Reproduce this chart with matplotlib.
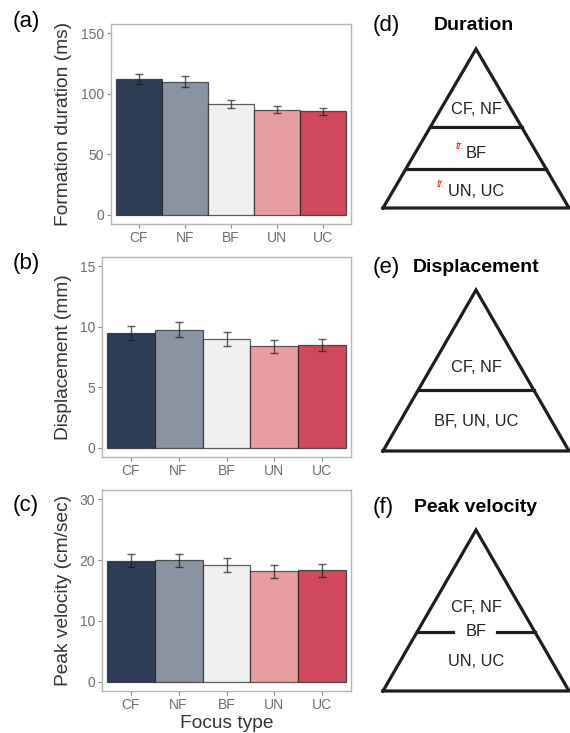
import numpy as np
import matplotlib
matplotlib.use('Agg')
import matplotlib.pyplot as plt

plt.rcParams['font.family'] = ['Liberation Sans', 'DejaVu Sans']

focus = ['CF', 'NF', 'BF', 'UN', 'UC']
colors = ['#2e3e56', '#8a93a2', '#f0f0f0', '#e89ea1', '#d0495b']

duration = [112.4, 110.0, 91.6, 86.6, 85.5]
duration_err = [4.2, 4.5, 3.4, 2.9, 3.0]
displacement = [9.48, 9.75, 8.96, 8.39, 8.50]
displacement_err = [0.58, 0.62, 0.58, 0.53, 0.52]
velocity = [19.87, 19.98, 19.16, 18.17, 18.34]
velocity_err = [1.05, 1.05, 1.1, 1.05, 1.05]

W, H = 570, 733
fig = plt.figure(figsize=(W / 100, H / 100), dpi=100)


def px_axes(x0, y0, x1, y1):
    # pixel box (top-left origin) -> figure fraction
    return fig.add_axes([x0 / W, 1 - y1 / H, (x1 - x0) / W, (y1 - y0) / H])


panels = [
    ('(a)', (111, 24, 351, 224), duration, duration_err, 150, 50, 'Formation duration (ms)', 21),
    ('(b)', (102, 257, 351, 457), displacement, displacement_err, 15, 5, 'Displacement (mm)', 264),
    ('(c)', (102, 490, 351, 691), velocity, velocity_err, 30, 10, 'Peak velocity (cm/sec)', 506),
]

x = np.arange(1, len(focus) + 1)
for i, (tag, box, vals, errs, ymax, step, ylab, tag_y) in enumerate(panels):
    ax = px_axes(*box)
    ax.bar(x, vals, width=1.0, color=colors, edgecolor=(0.1, 0.1, 0.1, 0.7), linewidth=0.9, zorder=2)
    ax.errorbar(x, vals, yerr=errs, fmt='none', ecolor=(0.1, 0.1, 0.1, 0.7),
                elinewidth=1.0, capsize=3, capthick=1.0, zorder=3)
    ax.set_xlim(0.4, 5.6)
    ax.set_ylim(-0.05 * ymax, 1.05 * ymax)
    ax.set_yticks(np.arange(0, ymax + 1e-9, step))
    ax.set_xticks(x)
    ax.set_xticklabels(focus)
    for s in ax.spines.values():
        s.set_color('#b5b5b5')
        s.set_linewidth(1.0)
    ax.tick_params(length=3, width=0.8, color='#8a8a8a', labelcolor='#6e6e6e',
                   labelsize=10, pad=2)
    ax.set_ylabel(ylab, fontsize=13.8, color='#333333')
    ax.yaxis.set_label_coords(72 / W, 1 - (box[1] + box[3]) / 2 / H, transform=fig.transFigure)
    fig.text(13 / W, 1 - tag_y / H, tag, fontsize=16, ha='left', va='center', color='black')
    if i == 2:
        ax.set_xlabel('Focus type', fontsize=13.8, color='#333333', labelpad=2)

# pyramid diagrams in pixel coordinates
ov = fig.add_axes([0, 0, 1, 1])
ov.set_xlim(0, W)
ov.set_ylim(H, 0)
ov.axis('off')
lw = 2.3
tcol = '#1e1e1e'


def edge_x(apex, base_y, half, y):
    frac = (y - apex[1]) / (base_y - apex[1])
    return apex[0] - half * frac, apex[0] + half * frac


def pyramid(apex, base_y, half, lines, gap=None):
    ov.plot([apex[0] - half, apex[0], apex[0] + half, apex[0] - half],
            [base_y, apex[1], base_y, base_y], color=tcol, lw=lw,
            solid_joinstyle='miter', clip_on=False)
    for y in lines:
        xl, xr = edge_x(apex, base_y, half, y)
        if gap is None:
            ov.plot([xl, xr], [y, y], color=tcol, lw=lw)
        else:
            ov.plot([xl, gap[0]], [y, y], color=tcol, lw=lw)
            ov.plot([gap[1], xr], [y, y], color=tcol, lw=lw)


cx = 476
tsize = 11.8
head = 14

# (d) Duration
ov.text(373, 25, '(d)', fontsize=16, ha='left', va='center')
ov.text(474, 25, 'Duration', fontsize=head, fontweight='bold', ha='center', va='center')
pyramid((cx, 49), 208, 93, [127, 169])
ov.text(cx, 110, 'CF, NF', fontsize=tsize, ha='center', va='center', color='#222222')
ov.text(cx, 154, 'BF', fontsize=tsize, ha='center', va='center', color='#222222')
ov.text(464, 146, 'tr.', fontsize=7.5, style='italic', color='#e8201e', ha='right', va='center')
ov.text(cx, 192, 'UN, UC', fontsize=tsize, ha='center', va='center', color='#222222')
ov.text(445, 184, 'tr.', fontsize=7.5, style='italic', color='#e8201e', ha='right', va='center')

# (e) Displacement
ov.text(373, 267, '(e)', fontsize=16, ha='left', va='center')
ov.text(476, 267, 'Displacement', fontsize=head, fontweight='bold', ha='center', va='center')
pyramid((cx, 290), 451, 93, [390])
ov.text(cx, 368, 'CF, NF', fontsize=tsize, ha='center', va='center', color='#222222')
ov.text(cx, 422, 'BF, UN, UC', fontsize=tsize, ha='center', va='center', color='#222222')

# (f) Peak velocity
ov.text(373, 507, '(f)', fontsize=16, ha='left', va='center')
ov.text(476, 507, 'Peak velocity', fontsize=head, fontweight='bold', ha='center', va='center')
pyramid((cx, 530), 691, 93, [632], gap=(453, 497))
ov.text(cx, 607, 'CF, NF', fontsize=tsize, ha='center', va='center', color='#222222')
ov.text(cx, 632, 'BF', fontsize=tsize, ha='center', va='center', color='#222222')
ov.text(cx, 662, 'UN, UC', fontsize=tsize, ha='center', va='center', color='#222222')

fig.savefig('out.png', dpi=100)
